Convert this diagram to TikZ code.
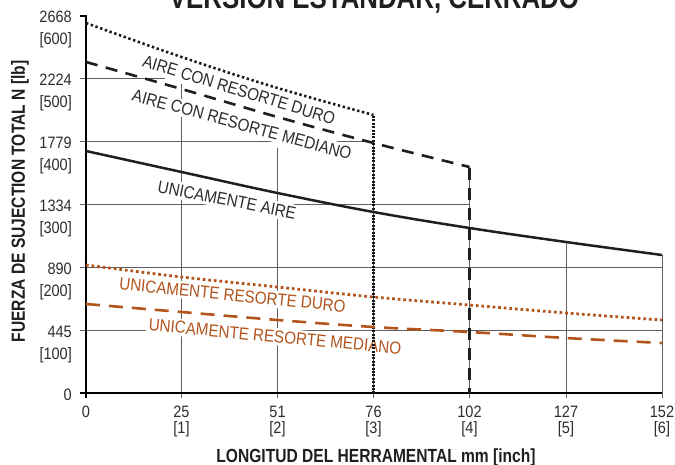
\documentclass[tikz,border=0pt]{standalone}
\usepackage{fontspec}
\newfontfamily\plotfont[FakeStretch=0.88]{Liberation Sans}
\newfontfamily\headfont[FakeStretch=0.82]{Liberation Sans}
\definecolor{rust}{RGB}{178,84,28}
\definecolor{gridgray}{RGB}{95,95,95}
\definecolor{inkgray}{RGB}{45,45,45}

\begin{document}
\begin{tikzpicture}[x=1pt,y=-1pt,
  gridline/.style={draw=gridgray, line width=0.9pt},
  axisline/.style={draw=black, line width=1.4pt},
  ticklab/.style={font=\plotfont\fontsize{16.5}{18}\selectfont, text=inkgray, inner sep=0pt},
  curvelab/.style={font=\plotfont\fontsize{17.3}{19}\selectfont, fill=white, inner sep=2.5pt},
  axistitle/.style={font=\headfont\bfseries\fontsize{19}{21}\selectfont, text=black!88, inner sep=0pt},
  solidcurve/.style={draw=black!88, line width=2.5pt},
  dotcurve/.style={draw=black!90, line width=2.6pt, dash pattern=on 2.4pt off 2.6pt},
  dotdrop/.style={draw=black!90, line width=2.7pt, dash pattern=on 2pt off 1.4pt},
  dashcurve/.style={draw=black!88, line width=2.6pt, dash pattern=on 12pt off 8.5pt},
  rustdots/.style={draw=rust, line width=2.8pt, dash pattern=on 2.7pt off 2.9pt},
  rustdash/.style={draw=rust, line width=2.6pt, dash pattern=on 14pt off 9pt}]

\useasboundingbox (0,0) rectangle (675,465);

% title (runs off the top edge of the page)
\node[font=\headfont\bfseries\fontsize{31.5}{34}\selectfont, text=black!88, anchor=base, inner sep=0pt]
  (title) at (374,8.5) {VERSION ESTANDAR, CERRADO};

% horizontal grid lines
\draw[gridline] (80,78.7) -- (165,78.7);
\draw[gridline] (80,141.6) -- (373.5,141.6);
\draw[gridline] (80,204.5) -- (469.5,204.5);
\draw[gridline] (80,267.2) -- (662,267.2);
\draw[gridline] (80,330) -- (662,330);

% vertical grid lines, running down into the axis ticks
\draw[gridline] (181.5,84) -- (181.5,398);
\draw[gridline] (277.5,148) -- (277.5,398);
\draw[gridline] (373.5,141.6) -- (373.5,398);
\draw[gridline] (469.5,167) -- (469.5,398);
\draw[gridline] (566,242) -- (566,398);
\draw[gridline] (662,255) -- (662,398);

% curve labels on white patches
\node[curvelab, rotate=-17, text=inkgray] (lduro) at (239,90) {AIRE CON RESORTE DURO};
\node[curvelab, rotate=-15.3, text=inkgray] (lmediano) at (242,124.5) {AIRE CON RESORTE MEDIANO};
\node[curvelab, rotate=-11.3, text=inkgray] (laire) at (227,200) {UNICAMENTE AIRE};
\node[curvelab, rotate=-5.8, text=rust] (lrduro) at (232.5,295) {UNICAMENTE RESORTE DURO};
\node[curvelab, rotate=-5.4, text=rust] (lrmediano) at (275,336.5) {UNICAMENTE RESORTE MEDIANO};

% axes
\draw[axisline] (80,16) -- (86,16) -- (86,398);
\draw[axisline] (80,393) -- (662,393);

% air with hard spring
\draw[dotcurve] plot[smooth, tension=0.6] coordinates {(86,23) (181.5,57) (277.5,88) (373.5,115)};
\draw[dotdrop] (373.5,116) -- (373.5,393);
% air with medium spring
\draw[dashcurve] plot[smooth, tension=0.6] coordinates {(86,62) (181.5,89) (277.5,117) (373.5,143) (469.5,167)};
\draw[dashcurve, dash pattern=on 12pt off 8pt, line width=3pt] (469.5,168) -- (469.5,393);
% air only
\draw[solidcurve] plot[smooth, tension=0.6] coordinates {(86,151) (181.5,172) (277.5,193) (373.5,212) (469.5,228) (566,242) (662,255)};
% spring only
\draw[rustdots] plot[smooth, tension=0.6] coordinates {(86,265) (181.5,277) (277.5,287) (373.5,297) (469.5,305) (566,313) (662,320)};
\draw[rustdash] plot[smooth, tension=0.6] coordinates {(86,304) (181.5,312) (277.5,320) (373.5,327) (469.5,332) (566,338) (662,343)};

% y tick labels: newtons over pounds
\node[ticklab, anchor=base east] (n2668) at (72,23) {2668};
\node[ticklab, anchor=base east] (p600) at (72,45) {[600]};
\node[ticklab, anchor=base east] (n2224) at (72,86) {2224};
\node[ticklab, anchor=base east] (p500) at (72,108) {[500]};
\node[ticklab, anchor=base east] (n1779) at (72,149) {1779};
\node[ticklab, anchor=base east] (p400) at (72,171) {[400]};
\node[ticklab, anchor=base east] (n1334) at (72,212) {1334};
\node[ticklab, anchor=base east] (p300) at (72,234) {[300]};
\node[ticklab, anchor=base east] (n890) at (72,274.5) {890};
\node[ticklab, anchor=base east] (p200) at (72,296) {[200]};
\node[ticklab, anchor=base east] (n445) at (72,337.5) {445};
\node[ticklab, anchor=base east] (p100) at (72,359) {[100]};
\node[ticklab, anchor=base east] (n0) at (72,400.5) {0};

% x tick labels: millimetres over inches
\node[ticklab, anchor=base] (m0) at (86,417) {0};
\node[ticklab, anchor=base] (m25) at (181.5,417) {25};
\node[ticklab, anchor=base] (i1) at (181.5,433) {[1]};
\node[ticklab, anchor=base] (m51) at (277.5,417) {51};
\node[ticklab, anchor=base] (i2) at (277.5,433) {[2]};
\node[ticklab, anchor=base] (m76) at (373.5,417) {76};
\node[ticklab, anchor=base] (i3) at (373.5,433) {[3]};
\node[ticklab, anchor=base] (m102) at (469.5,417) {102};
\node[ticklab, anchor=base] (i4) at (469.5,433) {[4]};
\node[ticklab, anchor=base] (m127) at (566,417) {127};
\node[ticklab, anchor=base] (i5) at (566,433) {[5]};
\node[ticklab, anchor=base] (m152) at (662,417) {152};
\node[ticklab, anchor=base] (i6) at (662,433) {[6]};

% axis titles
\node[axistitle, rotate=90] (ytitle) at (20,201.5) {FUERZA DE SUJECTION TOTAL N [lb]};
\node[axistitle, anchor=base] (xtitle) at (376,462) {LONGITUD DEL HERRAMENTAL mm [inch]};
\end{tikzpicture}
\end{document}
